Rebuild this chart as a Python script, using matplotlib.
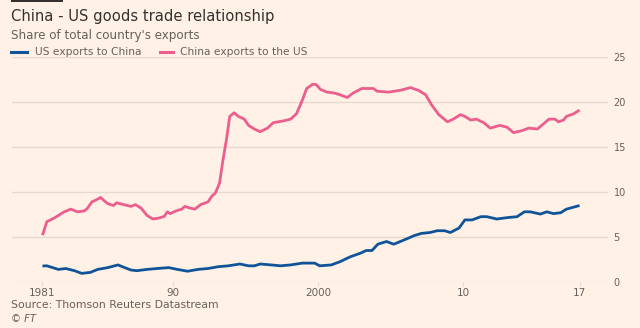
import matplotlib
matplotlib.use('Agg')
import matplotlib.pyplot as plt
from matplotlib.patches import Rectangle

# share of total country's exports, %
china_years = [1981.0, 1981.3, 1981.8, 1982.1, 1982.5, 1982.95, 1983.4, 1983.9, 1984.1, 1984.4,
               1984.8, 1985.0, 1985.2, 1985.5, 1985.9, 1986.1, 1986.6, 1987.1, 1987.4, 1987.8,
               1988.2, 1988.6, 1989.0, 1989.4, 1989.6, 1989.8, 1990.2, 1990.6, 1990.8, 1991.2,
               1991.5, 1991.9, 1992.4, 1992.7, 1992.9, 1993.2, 1993.4, 1993.7, 1993.9, 1994.2,
               1994.5, 1994.9, 1995.2, 1995.6, 1996.0, 1996.5, 1996.9, 1997.6, 1998.1, 1998.5,
               1998.9, 1999.2, 1999.6, 1999.85, 2000.15, 2000.6, 2001.1, 2001.5, 2002.0, 2002.4,
               2003.0, 2003.8, 2004.05, 2004.85, 2005.65, 2006.35, 2006.9, 2007.4, 2007.8, 2008.3,
               2008.9, 2009.3, 2009.8, 2010.1, 2010.5, 2010.9, 2011.4, 2011.85, 2012.5, 2013.0,
               2013.45, 2014.0, 2014.5, 2015.1, 2015.9, 2016.3, 2016.55, 2016.9, 2017.1, 2017.6,
               2018.0]
china_to_us = [5.2, 6.7, 7.1, 7.4, 7.8, 8.1, 7.8, 7.9, 8.2, 8.9,
               9.2, 9.4, 9.1, 8.7, 8.5, 8.8, 8.6, 8.4, 8.6, 8.2,
               7.4, 7.0, 7.1, 7.3, 7.8, 7.6, 7.9, 8.1, 8.4, 8.2,
               8.1, 8.6, 8.9, 9.6, 9.85, 11.0, 13.2, 16.1, 18.4, 18.8,
               18.4, 18.1, 17.4, 17.0, 16.7, 17.1, 17.7, 17.9, 18.1, 18.7,
               20.2, 21.5, 21.96, 21.95, 21.4, 21.1, 21.0, 20.8, 20.5, 21.0,
               21.5, 21.5, 21.2, 21.1, 21.3, 21.6, 21.3, 20.8, 19.7, 18.6,
               17.8, 18.1, 18.6, 18.4, 18.0, 18.1, 17.7, 17.1, 17.4, 17.2,
               16.6, 16.8, 17.1, 17.0, 18.1, 18.1, 17.8, 18.0, 18.4, 18.7,
               19.1]

us_years = [1981.0, 1981.3, 1982.1, 1982.6, 1983.2, 1983.7, 1984.3, 1984.8, 1985.5, 1986.2,
            1986.5, 1987.1, 1987.5, 1988.2, 1988.9, 1989.7, 1990.3, 1991.0, 1991.7, 1992.4,
            1993.1, 1993.8, 1994.6, 1995.2, 1995.6, 1996.0, 1996.75, 1997.4, 1998.1, 1998.9,
            1999.75, 2000.1, 2000.9, 2001.5, 2002.2, 2002.9, 2003.3, 2003.7, 2004.1, 2004.7,
            2005.2, 2005.65, 2006.1, 2006.6, 2007.1, 2007.7, 2008.2, 2008.7, 2009.1, 2009.7,
            2010.1, 2010.6, 2011.2, 2011.6, 2012.3, 2013.0, 2013.7, 2014.2, 2014.6, 2015.3,
            2015.75, 2016.2, 2016.7, 2017.1, 2018.0]
us_to_china = [1.78, 1.8, 1.4, 1.5, 1.26, 0.96, 1.07, 1.4, 1.6, 1.9,
               1.7, 1.33, 1.26, 1.4, 1.5, 1.6, 1.4, 1.2, 1.4, 1.5,
               1.7, 1.8, 2.0, 1.8, 1.8, 2.0, 1.9, 1.8, 1.9, 2.1,
               2.1, 1.8, 1.9, 2.26, 2.8, 3.2, 3.5, 3.5, 4.2, 4.5,
               4.2, 4.5, 4.8, 5.15, 5.4, 5.5, 5.7, 5.7, 5.5, 6.0,
               6.9, 6.9, 7.26, 7.26, 7.0, 7.15, 7.26, 7.8, 7.8, 7.55,
               7.8, 7.6, 7.7, 8.1, 8.5]

xticks = [1981, 1990, 2000, 2010, 2018]
xtick_labels = ['1981', '90', '2000', '10', '17']
yticks = [0, 5, 10, 15, 20, 25]

bg = '#FFF1E5'
grid_col = '#E6D9CE'
text_col = '#66605C'
blue = '#0F5499'
pink = '#EB5E8D'

plt.rcParams['font.family'] = ['DejaVu Sans']

fig = plt.figure(figsize=(6.4, 3.28), dpi=100, facecolor=bg)
ax = fig.add_axes([0.01875, 0.1402, 0.93125, 0.686])
ax.set_facecolor(bg)

ax.plot(us_years, us_to_china, color=blue, lw=2.0, solid_capstyle='butt', zorder=3)
ax.plot(china_years, china_to_us, color=pink, lw=2.0, solid_capstyle='butt', zorder=3)

ax.set_xlim(1978.9, 2019.96)
ax.set_ylim(0, 25)
ax.set_yticks(yticks)
ax.set_xticks(xticks)
ax.set_xticklabels(xtick_labels)
ax.yaxis.tick_right()
ax.grid(axis='y', color=grid_col, lw=1.0)
ax.set_axisbelow(True)
for s in ax.spines.values():
    s.set_visible(False)
ax.tick_params(axis='y', length=0, pad=4, labelsize=7, labelcolor=text_col)
ax.tick_params(axis='x', length=3, width=0.8, color=grid_col, pad=1,
               labelsize=7.5, labelcolor=text_col)
for lab in ax.get_yticklabels():
    lab.set_clip_on(False)

# header
fig.patches.append(Rectangle((11 / 640, 1 - 1.5 / 328), 52 / 640, 1.5 / 328,
                             transform=fig.transFigure, facecolor='#33302E', lw=0))
fig.text(11 / 640, 1 - 17 / 328, 'China - US goods trade relationship',
         fontsize=10.6, color='#33302E', va='center', ha='left')
fig.text(11 / 640, 1 - 36 / 328, "Share of total country's exports",
         fontsize=8.6, color=text_col, va='center', ha='left')

# legend
ly = 1 - 52 / 328
fig.add_artist(plt.Line2D([11 / 640, 27 / 640], [ly, ly], color=blue, lw=2.2))
fig.text(35 / 640, ly, 'US exports to China', fontsize=7.7, color=text_col, va='center')
fig.add_artist(plt.Line2D([160 / 640, 173 / 640], [ly, ly], color=pink, lw=2.2))
fig.text(180 / 640, ly, 'China exports to the US', fontsize=7.7, color=text_col, va='center')

# footer
fig.text(11 / 640, 1 - 305 / 328, 'Source: Thomson Reuters Datastream',
         fontsize=7.8, color=text_col, va='center')
fig.text(11 / 640, 1 - 319 / 328, '© FT', fontsize=7.2, color=text_col,
         va='center', style='italic')

fig.savefig('out.png', dpi=100, facecolor=bg)
